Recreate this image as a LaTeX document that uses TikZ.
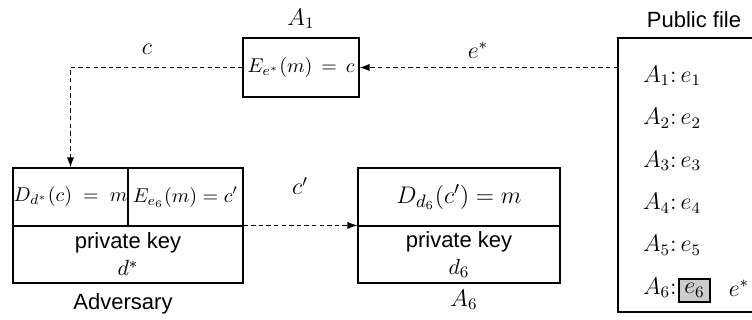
\documentclass[tikz,border=0pt]{standalone}
\usepackage{fontspec}
\setsansfont{Liberation Sans}
\usetikzlibrary{arrows.meta}
\usetikzlibrary{positioning}

\begin{document}
\begin{tikzpicture}[x=0.5pt,y=0.5pt,
  frame/.style={draw, line width=0.55pt},
  cell/.style={frame, inner sep=0pt, minimum height=29pt},
  link/.style={dash pattern=on 2.2pt off 1.6pt, line width=0.6pt, -{Latex[length=5pt,width=3.6pt]}},
  lbl/.style={font=\large},
  txt/.style={font=\sffamily\fontsize{11}{13.5}\selectfont, align=center}]

  \useasboundingbox (0,0) rectangle (752,320);

  % --- A_1 encrypts with the forged key ---
  \node[frame, minimum width=58pt, minimum height=29.5pt, inner sep=1pt] (enc) at (301,252.5) {$E_{e^*}(m)\,=\,c$};
  \node[lbl] at (301,301) {$A_1$};

  % --- Adversary: decrypt, then re-encrypt ---
  \node[cell, minimum width=57.5pt] (advdec) at (70.5,123) {$D_{d^*}(c)\;=\;m$};
  \node[cell, minimum width=57.5pt] (advenc) at (185.5,123) {$E_{e_6}(m)=c'$};
  \node[cell, txt, minimum width=115pt, minimum height=28.5pt] (advkey) at (128,65.5) {private key\\$d^*$};
  \node[txt] at (123,16) {Adversary};

  % --- A_6 receives c' ---
  \node[cell, minimum width=101pt, font=\fontsize{13}{15}\selectfont] (bobdec) at (459,123) {$D_{d_6}(c')=m$};
  \node[cell, txt, minimum width=101pt, minimum height=28.5pt] (bobkey) at (459,65.5) {private key\\$d_6$};
  \node[lbl] at (464,20) {$A_6$};

  % --- Public file (right side runs off the page) ---
  \draw[frame] (752,282) -- (618,282) -- (618,8) -- (752,8);
  \coordinate (pubin) at (618,252.5);
  \node[txt] at (694,300) {Public file};
  \foreach \i/\y in {1/244,2/201.6,3/159.2,4/116.8,5/74.4}
    \node[lbl, anchor=west] (ent\i) at (636,\y) {$A_{\i}\colon e_{\i}$};
  \node[lbl, anchor=west] (ent6) at (636,32) {$A_6\colon$};
  \node[frame, lbl, fill=black!20, inner sep=0pt, minimum width=15.5pt, minimum height=11.5pt] (e6) at (694.5,29.5) {$e_6$};
  \node[lbl] (estar) at (739,32) {$e^*$};

  % --- connectors ---
  \draw[link] (pubin) -- (enc.east);
  \draw[link] (enc.west) -| (advdec.north);
  \draw[link] (advkey.north east) -- (bobkey.north west);

  \node[lbl] at (147,271) {$c$};
  \node[lbl] at (478,270) {$e^*$};
  \node[lbl] at (300,134) {$c'$};

\end{tikzpicture}
\end{document}
